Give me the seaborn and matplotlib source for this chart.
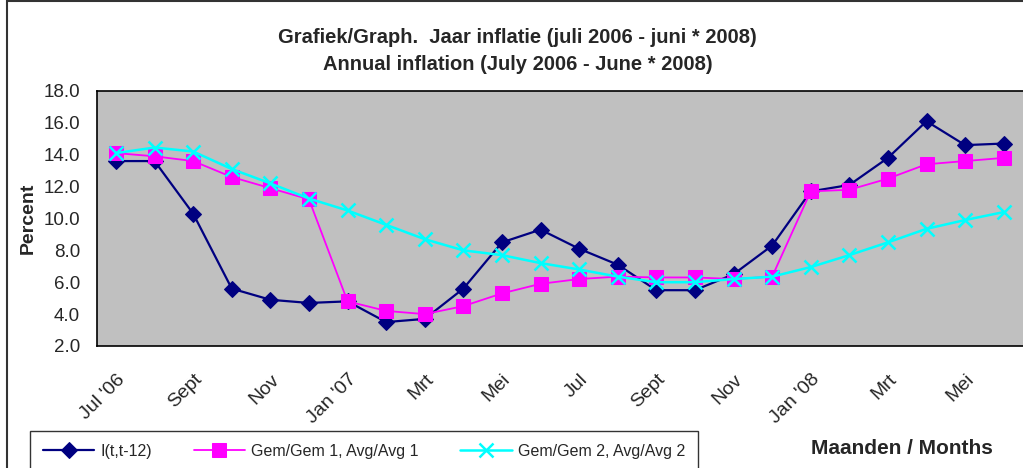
import numpy as np
import pandas as pd
import seaborn as sns
import matplotlib.pyplot as plt
from matplotlib.patches import Rectangle

# monthly values, Jul '06 .. Jun '08
months = ["Jul '06", "Aug", "Sept", "Okt", "Nov", "Dec", "Jan '07", "Feb", "Mrt", "Apr",
          "Mei", "Jun", "Jul", "Aug", "Sept", "Okt", "Nov", "Dec", "Jan '08", "Feb",
          "Mrt", "Apr", "Mei", "Jun"]
infl = [13.6, 13.6, 10.3, 5.6, 4.9, 4.7, 4.8, 3.5, 3.7, 5.6, 8.5, 9.3,
        8.1, 7.1, 5.5, 5.5, 6.5, 8.3, 11.7, 12.1, 13.8, 16.1, 14.6, 14.7]
avg1 = [14.1, 13.9, 13.6, 12.6, 11.9, 11.2, 4.8, 4.2, 4.0, 4.5, 5.3, 5.9,
        6.2, 6.35, 6.3, 6.3, 6.2, 6.35, 11.7, 11.8, 12.5, 13.4, 13.6, 13.8]
avg2 = [14.1, 14.45, 14.2, 13.1, 12.2, 11.25, 10.5, 9.6, 8.7, 8.0, 7.7, 7.2,
        6.8, 6.35, 6.0, 6.0, 6.2, 6.35, 6.95, 7.7, 8.5, 9.35, 9.9, 10.4]
shown_labels = ["Jul '06", "Sept", "Nov", "Jan '07", "Mrt", "Mei",
                "Jul", "Sept", "Nov", "Jan '08", "Mrt", "Mei"]
names = ["I(t,t-12)", "Gem/Gem 1, Avg/Avg 1", "Gem/Gem 2, Avg/Avg 2"]

sns.set_style("white")
plt.rcParams['font.family'] = ['Liberation Sans', 'DejaVu Sans']

x = np.arange(len(months))
fig = plt.figure(figsize=(10.23, 4.68), dpi=100)
ax = fig.add_axes([0.0945, 0.2607, 0.9055, 0.545])
ax.set_facecolor("#c0c0c0")

sns.lineplot(x=x, y=infl, ax=ax, color="#000080", marker="D", markersize=8,
             markeredgecolor="#000080", linewidth=1.6, label=names[0])
sns.lineplot(x=x, y=avg1, ax=ax, color="#ff00ff", marker="s", markersize=10,
             markeredgecolor="#ff00ff", linewidth=1.3, label=names[1])
sns.lineplot(x=x, y=avg2, ax=ax, color="#00ffff", marker="x", markersize=10,
             markeredgecolor="#00ffff", markeredgewidth=1.8, linewidth=1.8,
             label=names[2])

ax.set_xlim(-0.5, len(months) - 0.5)
ax.set_ylim(2, 18)
ax.set_yticks(np.arange(2, 18.1, 2))
ax.set_yticklabels([f"{v:.1f}" for v in np.arange(2, 18.1, 2)], fontsize=13.5)
ax.set_xticks(np.arange(-0.5, len(months), 1.0))
ax.set_xticklabels([])
ax.set_xticks(x[::2], minor=True)
ax.set_xticklabels(shown_labels, minor=True, rotation=45, ha="right",
                   rotation_mode="anchor", fontsize=14)
ax.tick_params(axis="x", which="major", direction="out", length=6, width=1, color="black")
ax.tick_params(axis="x", which="minor", length=0, pad=18)
ax.tick_params(axis="y", direction="out", length=6, width=1, color="black", pad=6)
for s in ["top", "left", "bottom"]:
    ax.spines[s].set_color("black")
    ax.spines[s].set_linewidth(1.2)
ax.spines["right"].set_visible(False)
ax.grid(False)
ax.set_xlabel("")
ax.set_ylabel("Percent", fontsize=14, fontweight="bold", labelpad=5)

ax.get_legend().remove()
h, l = ax.get_legend_handles_labels()
leg = fig.legend(h, l, loc="lower left", bbox_to_anchor=(0.022, -0.025), ncol=3,
                 frameon=True, fancybox=False, edgecolor="black", fontsize=11.5,
                 handlelength=3.2, handletextpad=0.4, columnspacing=2.6, borderpad=0.8)
leg.get_frame().set_linewidth(1.0)

fig.text(0.882, 0.042, "Maanden / Months", fontsize=15, fontweight="bold",
         ha="center", va="center")
fig.text(0.506, 0.92, "Grafiek/Graph.  Jaar inflatie (juli 2006 - juni * 2008)",
         fontsize=14.5, fontweight="bold", ha="center", va="center")
fig.text(0.506, 0.863, "Annual inflation (July 2006 - June * 2008)",
         fontsize=14.5, fontweight="bold", ha="center", va="center")

fig.patches.append(Rectangle((0.007, -0.01), 1.0, 1.008, transform=fig.transFigure,
                             fill=False, edgecolor="#333333", linewidth=1.5))

fig.savefig("out.png", dpi=100)
